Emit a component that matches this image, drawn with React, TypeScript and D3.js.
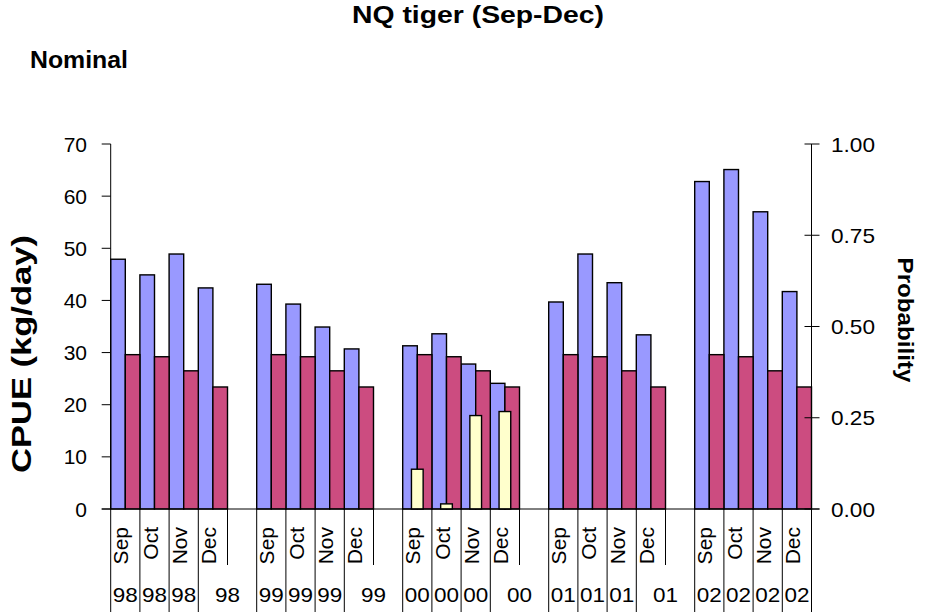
import React from "react";
import * as d3 from "d3";

const months = ["Sep","Oct","Nov","Dec","","Sep","Oct","Nov","Dec","","Sep","Oct","Nov","Dec","","Sep","Oct","Nov","Dec","","Sep","Oct","Nov","Dec"];
const years = ["98","98","98","98","98","99","99","99","99","99","00","00","00","00","00","01","01","01","01","01","02","02","02","02"];
const cpue: (number | null)[] = [47.9,44.9,48.9,42.4,null,43.1,39.3,34.9,30.7,null,31.3,33.6,27.8,24.1,null,39.7,48.9,43.4,33.4,null,62.8,65.1,57.0,41.7];
const reference: (number | null)[] = [29.6,29.2,26.5,23.4,null,29.6,29.2,26.5,23.4,null,29.6,29.2,26.5,23.4,null,29.6,29.2,26.5,23.4,null,29.6,29.2,26.5,23.4];
const probability: (number | null)[] = [null,null,null,null,null,null,null,null,null,null,0.109,0.014,0.256,0.267,null,null,null,null,null,null,null,null,null,null];
const leftTicks = [0,10,20,30,40,50,60,70];
const rightTicks = [0,0.25,0.5,0.75,1.0];

const W = 925, H = 614;
const L = 110.7, R = 811.5, T = 144, B = 509;
const FONT = "'Liberation Sans', Arial, sans-serif";

export default function App() {
  const idx = months.map((_, i) => i);
  const x = d3.scaleBand<number>().domain(idx).range([L, R]).paddingInner(0).paddingOuter(0);
  const y = d3.scaleLinear().domain([0, 70]).range([B, T]);
  const y2 = d3.scaleLinear().domain([0, 1]).range([B, T]);
  const bw = x.bandwidth();

  // year cells: a blank month merges with the preceding year cell
  const cells: { start: number; end: number; label: string }[] = [];
  months.forEach((m, i) => {
    if (m === "") return;
    const end = i + 1 < months.length && months[i + 1] === "" ? i + 2 : i + 1;
    cells.push({ start: i, end, label: years[i] });
  });
  const edge = (i: number) => (i >= months.length ? R : (x(i) as number));
  const longLines = new Set<number>();
  cells.forEach(c => { longLines.add(c.start); longLines.add(c.end); });
  const shortLines: number[] = [];
  months.forEach((m, i) => { if (m === "" && !longLines.has(i)) shortLines.push(i); });

  return (
    <svg width={W} height={H} style={{ position: "absolute", left: 0, top: 0, background: "#fff" }} fontFamily={FONT}>
      <rect x={0} y={0} width={W} height={H} fill="#fff" />
      <text x={478} y={23} textAnchor="middle" fontSize={24} fontWeight="bold" textLength={252} lengthAdjust="spacingAndGlyphs">NQ tiger (Sep-Dec)</text>
      <text x={30} y={68} fontSize={23} fontWeight="bold" textLength={98} lengthAdjust="spacingAndGlyphs">Nominal</text>

      {/* bars */}
      {cpue.map((v, i) => v == null ? null : (
        <rect key={"b" + i} x={x(i)} y={y(v)} width={bw / 2} height={B - y(v)} fill="#9999FF" stroke="#000" strokeWidth={1.4} />
      ))}
      {reference.map((v, i) => v == null ? null : (
        <rect key={"r" + i} x={(x(i) as number) + bw / 2} y={y(v)} width={bw / 2} height={B - y(v)} fill="#CC4C80" stroke="#000" strokeWidth={1.4} />
      ))}
      {probability.map((v, i) => v == null ? null : (
        <rect key={"p" + i} x={(x(i) as number) + bw / 2 - bw / 5} y={y2(v)} width={bw * 2 / 5} height={B - y2(v)} fill="#FFFFCC" stroke="#000" strokeWidth={1.4} />
      ))}

      {/* left axis */}
      <line x1={L} x2={L} y1={T} y2={B} stroke="#000" strokeWidth={1} />
      {leftTicks.map(t => (
        <g key={"lt" + t}>
          <line x1={L - 9} x2={L} y1={y(t)} y2={y(t)} stroke="#000" />
          <text x={87} y={y(t) + 7.5} textAnchor="end" fontSize={21}>{t}</text>
        </g>
      ))}
      {/* right axis */}
      <line x1={R} x2={R} y1={T} y2={B} stroke="#000" strokeWidth={1} />
      {rightTicks.map(t => (
        <g key={"rt" + t}>
          <line x1={R - 7} x2={R + 8} y1={y2(t)} y2={y2(t)} stroke="#000" />
          <text x={831} y={y2(t) + 7.5} fontSize={21} textLength={44} lengthAdjust="spacingAndGlyphs">{t.toFixed(2)}</text>
        </g>
      ))}
      {/* x axis */}
      <line x1={L - 9} x2={R + 8} y1={B} y2={B} stroke="#000" strokeWidth={1} />
      {Array.from(longLines).map(i => (
        <line key={"ll" + i} x1={edge(i)} x2={edge(i)} y1={B} y2={612} stroke="#000" strokeWidth={1} />
      ))}
      {shortLines.map(i => (
        <line key={"sl" + i} x1={edge(i)} x2={edge(i)} y1={B} y2={565} stroke="#000" strokeWidth={1} />
      ))}
      {months.map((m, i) => m === "" ? null : (
        <text key={"m" + i} transform={`translate(${(x(i) as number) + bw / 2 + 3},527) rotate(-90)`} textAnchor="end" fontSize={21}>{m}</text>
      ))}
      {cells.map((c, k) => (
        <text key={"y" + k} x={(edge(c.start) + edge(c.end)) / 2} y={602} textAnchor="middle" fontSize={21} textLength={25} lengthAdjust="spacingAndGlyphs">{c.label}</text>
      ))}

      {/* axis titles */}
      <text transform="translate(31,354) rotate(-90)" textAnchor="middle" fontSize={27} fontWeight="bold" textLength={238} lengthAdjust="spacingAndGlyphs">CPUE (kg/day)</text>
      <text transform="translate(898,320) rotate(90)" textAnchor="middle" fontSize={22} fontWeight="bold" textLength={125} lengthAdjust="spacingAndGlyphs">Probability</text>
    </svg>
  );
}
